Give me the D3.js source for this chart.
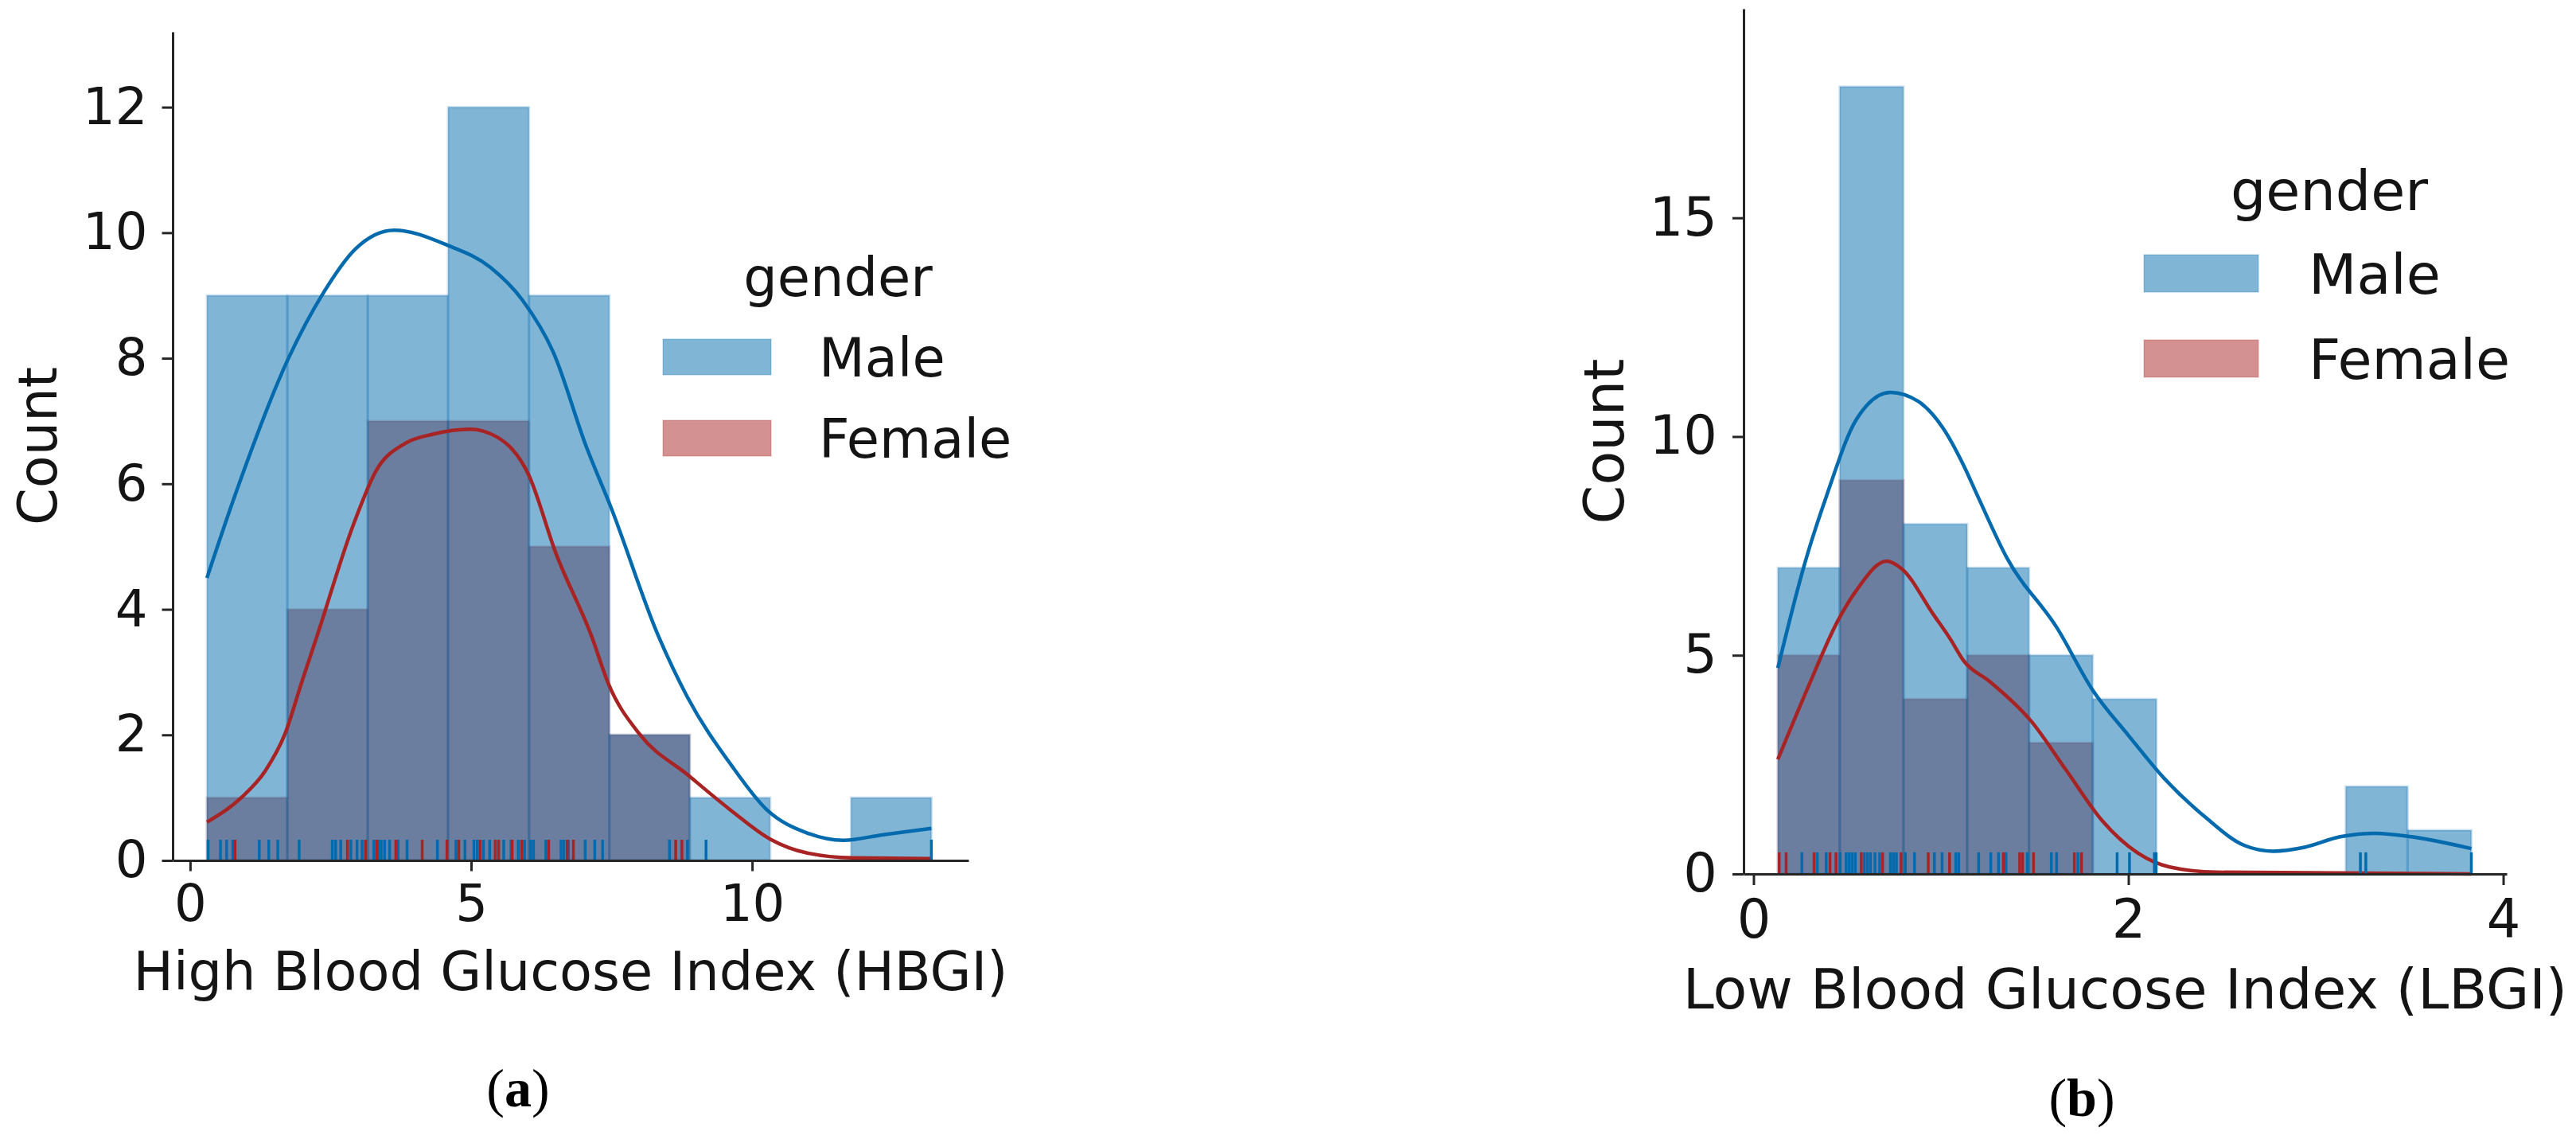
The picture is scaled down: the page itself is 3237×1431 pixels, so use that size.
<!DOCTYPE html>
<html>
<head>
<meta charset="utf-8">
<script src="https://cdn.jsdelivr.net/npm/d3@7"></script>
<style>
  body { margin: 0; background: #fff; }
</style>
</head>
<body>
<script>
// ---------------- values ----------------

// (a) High Blood Glucose Index
var hbgiEdges  = [0.30, 1.73, 3.16, 4.59, 6.03, 7.46, 8.89, 10.32, 11.76, 13.19];
var hbgiMale   = [9, 9, 9, 12, 9, 2, 1, 0, 1];
var hbgiFemale = [1, 4, 7, 7, 5, 2, 0, 0, 0];

var hbgiMaleKde = [[0.30, 4.50], [0.82, 5.87], [1.74, 7.98], [2.37, 9.04], [2.94, 9.74],
  [3.63, 10.04], [4.58, 9.80], [5.34, 9.45], [5.91, 8.93], [6.46, 8.10], [7.05, 6.59],
  [7.49, 5.62], [8.33, 3.58], [8.85, 2.60], [9.62, 1.53], [10.27, 0.80], [10.97, 0.44],
  [11.62, 0.32], [12.33, 0.41], [13.19, 0.51]];
var hbgiFemaleKde = [[0.30, 0.61], [0.91, 1.00], [1.34, 1.43], [1.69, 2.02], [1.99, 2.85],
  [2.26, 3.58], [2.91, 5.36], [3.31, 6.21], [3.82, 6.64], [4.32, 6.79], [4.98, 6.87],
  [5.45, 6.75], [6.02, 6.15], [6.51, 4.89], [7.14, 3.58], [7.45, 2.80], [7.99, 2.02],
  [8.86, 1.36], [9.62, 0.80], [10.32, 0.34], [10.97, 0.12], [11.79, 0.04], [13.19, 0.03]];

var hbgiMaleRug = [0.32, 0.54, 0.65, 0.76, 1.23, 1.40, 1.56, 1.94, 2.53, 2.59, 2.68, 2.86,
  2.97, 3.06, 3.27, 3.35, 3.40, 3.46, 3.55, 3.70, 3.86, 4.40, 4.73, 4.89, 5.05, 5.11, 5.22,
  5.33, 5.58, 5.71, 5.84, 5.95, 6.06, 6.11, 6.33, 6.60, 6.65, 6.73, 7.03, 7.20, 7.34, 8.53,
  8.85, 9.18, 13.19];
var hbgiFemaleRug = [0.80, 2.80, 3.12, 3.32, 3.66, 4.13, 4.57, 4.78, 5.16, 5.43, 5.49, 5.73,
  5.90, 6.38, 6.71, 6.82, 8.64, 8.75];

// (b) Low Blood Glucose Index
var lbgiEdges  = [0.13, 0.46, 0.80, 1.14, 1.47, 1.81, 2.15, 2.48, 2.82, 3.16, 3.49, 3.83];
var lbgiMale   = [7, 18, 8, 7, 5, 4, 0, 0, 0, 2, 1];
var lbgiFemale = [5, 9, 4, 5, 3, 0, 0, 0, 0, 0, 0];

var lbgiMaleKde = [[0.13, 4.71], [0.27, 7.05], [0.39, 8.65], [0.55, 10.40], [0.73, 11.01],
  [0.88, 10.80], [1.01, 10.20], [1.12, 9.35], [1.20, 8.60], [1.35, 7.24], [1.62, 5.62],
  [1.81, 4.20], [2.00, 3.17], [2.19, 2.19], [2.41, 1.30], [2.62, 0.65],
  [2.77, 0.52], [2.94, 0.61], [3.13, 0.85], [3.32, 0.93], [3.51, 0.85], [3.83, 0.58]];
var lbgiFemaleKde = [[0.13, 2.62], [0.29, 4.26], [0.45, 5.79], [0.55, 6.49], [0.71, 7.15],
  [0.79, 6.98], [0.96, 5.93], [1.05, 5.37], [1.12, 4.88], [1.26, 4.40], [1.48, 3.50],
  [1.67, 2.36], [1.86, 1.22], [2.05, 0.48], [2.22, 0.16], [2.47, 0.04], [3.83, 0.00]];

var lbgiMaleRug = [0.258, 0.340, 0.388, 0.462, 0.494, 0.510, 0.526, 0.543, 0.591, 0.608,
  0.624, 0.648, 0.673, 0.730, 0.746, 0.762, 0.810, 0.859, 0.965, 1.006, 1.079, 1.095, 1.201,
  1.266, 1.307, 1.347, 1.461, 1.589, 1.617, 1.731, 1.940, 2.006, 2.139, 2.148, 3.238, 3.267,
  3.830];
var lbgiFemaleRug = [0.137, 0.174, 0.323, 0.408, 0.440, 0.575, 0.689, 0.787, 0.932, 1.046,
  1.333, 1.420, 1.436, 1.494, 1.712, 1.750];

var hueLevels = ["Male", "Female"];

// ---------------- drawing ----------------
var width = 3237, height = 1431;
var maleColor = "#036bad", femaleColor = "#a82424", ink = "#262626", textInk = "#141414";

var svg = d3.select("body")
  .append("svg")
  .attr("width", width)
  .attr("height", height)
  .style("font-family", "'DejaVu Sans'");

function drawPanel(p) {
  var x = d3.scaleLinear().domain(p.xDomain).range([p.left, p.right]);
  var y = d3.scaleLinear().domain(p.yDomain).range([p.bottom, p.top]);
  var g = svg.append("g");

  // histogram bars, female first so male sits on top (as seaborn does)
  [[p.female, femaleColor], [p.male, maleColor]].forEach(function(s) {
    var bins = s[0].map(function(c, i) {
      return {c: c, x0: p.edges[i], x1: p.edges[i + 1]};
    }).filter(function(d) { return d.c > 0; });
    g.append("g").selectAll("rect")
      .data(bins)
      .enter()
      .append("rect")
      .attr("x", function(d) { return x(d.x0); })
      .attr("width", function(d) { return x(d.x1) - x(d.x0); })
      .attr("y", function(d) { return y(d.c); })
      .attr("height", function(d) { return y(0) - y(d.c); })
      .attr("fill", s[1])
      .attr("fill-opacity", 0.5)
      .attr("stroke", s[1])
      .attr("stroke-opacity", 0.2)
      .attr("stroke-width", 3);
  });

  // kde lines
  var line = d3.line()
    .x(function(d) { return x(d[0]); })
    .y(function(d) { return y(d[1]); })
    .curve(d3.curveMonotoneX);
  [[p.femaleKde, femaleColor], [p.maleKde, maleColor]].forEach(function(s) {
    g.append("path")
      .datum(s[0])
      .attr("d", line)
      .attr("fill", "none")
      .attr("stroke", s[1])
      .attr("stroke-width", 4.5);
  });

  // rug
  var rugH = (p.bottom - p.top) * 0.025;
  [[p.maleRug, maleColor], [p.femaleRug, femaleColor]].forEach(function(s) {
    g.append("g").selectAll("line")
      .data(s[0])
      .enter()
      .append("line")
      .attr("x1", function(d) { return x(d); })
      .attr("x2", function(d) { return x(d); })
      .attr("y1", y(0))
      .attr("y2", y(0) - rugH)
      .attr("stroke", s[1])
      .attr("stroke-width", 3.5);
  });

  // axes (left + bottom spines only)
  var xAxis = d3.axisBottom(x)
    .tickValues(p.xTicks)
    .tickFormat(d3.format("d"))
    .tickSize(p.tick)
    .tickSizeOuter(0)
    .tickPadding(p.xPad);
  var yAxis = d3.axisLeft(y)
    .tickValues(p.yTicks)
    .tickFormat(d3.format("d"))
    .tickSize(p.tick)
    .tickSizeOuter(0)
    .tickPadding(p.yPad);

  var gx = g.append("g").attr("transform", "translate(0," + p.bottom + ")").call(xAxis);
  var gy = g.append("g").attr("transform", "translate(" + p.left + ",0)").call(yAxis);
  [gx, gy].forEach(function(a) {
    a.style("color", ink)
      .attr("font-family", "'DejaVu Sans'")
      .attr("font-size", p.tickFont);
    a.selectAll("path.domain").attr("stroke-width", 3);
    a.selectAll(".tick line").attr("stroke-width", 3);
    a.selectAll(".tick text").attr("fill", textInk);
  });

  // axis labels
  g.append("text")
    .attr("x", (p.left + p.right) / 2)
    .attr("y", p.xLabelY)
    .attr("text-anchor", "middle")
    .attr("font-size", p.labelFont)
    .attr("fill", textInk)
    .text(p.xLabel);
  g.append("text")
    .attr("transform", "translate(" + p.countX + "," + ((p.top + p.bottom) / 2) + ") rotate(-90)")
    .attr("text-anchor", "middle")
    .attr("font-size", p.labelFont)
    .attr("fill", textInk)
    .text("Count");

  // legend
  var L = p.legend;
  g.append("text")
    .attr("x", L.titleX)
    .attr("y", L.titleY)
    .attr("text-anchor", "middle")
    .attr("font-size", p.labelFont)
    .attr("fill", textInk)
    .text("gender");
  var colors = [maleColor, femaleColor];
  hueLevels.forEach(function(name, i) {
    g.append("rect")
      .attr("x", L.patchX)
      .attr("y", L.rowY[i])
      .attr("width", L.patchW)
      .attr("height", L.patchH)
      .attr("fill", colors[i])
      .attr("fill-opacity", 0.5)
      .attr("stroke", colors[i])
      .attr("stroke-opacity", 0.15)
      .attr("stroke-width", 2);
    g.append("text")
      .attr("x", L.textX)
      .attr("y", L.rowY[i] + L.patchH / 2 + 0.36 * p.labelFont)
      .attr("font-size", p.labelFont)
      .attr("fill", textInk)
      .text(name);
  });

  // panel tag
  var t = svg.append("text")
    .attr("x", p.tagX)
    .attr("y", p.tagY)
    .attr("text-anchor", "middle")
    .attr("font-family", "'Liberation Serif', serif")
    .attr("font-size", 68)
    .attr("fill", "#000");
  t.append("tspan").text("(");
  t.append("tspan").attr("font-weight", "bold").text(p.tag);
  t.append("tspan").text(")");
}

drawPanel({
  edges: hbgiEdges, male: hbgiMale, female: hbgiFemale,
  maleKde: hbgiMaleKde, femaleKde: hbgiFemaleKde,
  maleRug: hbgiMaleRug, femaleRug: hbgiFemaleRug,
  left: 217, right: 1217, top: 40, bottom: 1081,
  xDomain: [-0.31, 13.85], yDomain: [0, 13.2],
  xTicks: [0, 5, 10], yTicks: [0, 2, 4, 6, 8, 10, 12],
  tick: 13.5, xPad: 17, yPad: 18, tickFont: 64, labelFont: 67,
  xLabel: "High Blood Glucose Index (HBGI)", xLabelY: 1244, countX: 71,
  legend: {patchX: 833, patchW: 136, patchH: 45, rowY: [426, 528],
           textX: 1029, titleX: 1053, titleY: 372},
  tag: "a", tagX: 651, tagY: 1390
});

drawPanel({
  edges: lbgiEdges, male: lbgiMale, female: lbgiFemale,
  maleKde: lbgiMaleKde, femaleKde: lbgiFemaleKde,
  maleRug: lbgiMaleRug, femaleRug: lbgiFemaleRug,
  left: 2191, right: 3150, top: 11, bottom: 1098,
  xDomain: [-0.053, 4.019], yDomain: [0, 19.78],
  xTicks: [0, 2, 4], yTicks: [0, 5, 10, 15],
  tick: 14, xPad: 18, yPad: 19, tickFont: 67, labelFont: 70,
  xLabel: "Low Blood Glucose Index (LBGI)", xLabelY: 1267, countX: 2040,
  legend: {patchX: 2694, patchW: 144, patchH: 47, rowY: [320, 427],
           textX: 2901, titleX: 2927, titleY: 264},
  tag: "b", tagX: 2616, tagY: 1402
});
</script>
</body>
</html>
